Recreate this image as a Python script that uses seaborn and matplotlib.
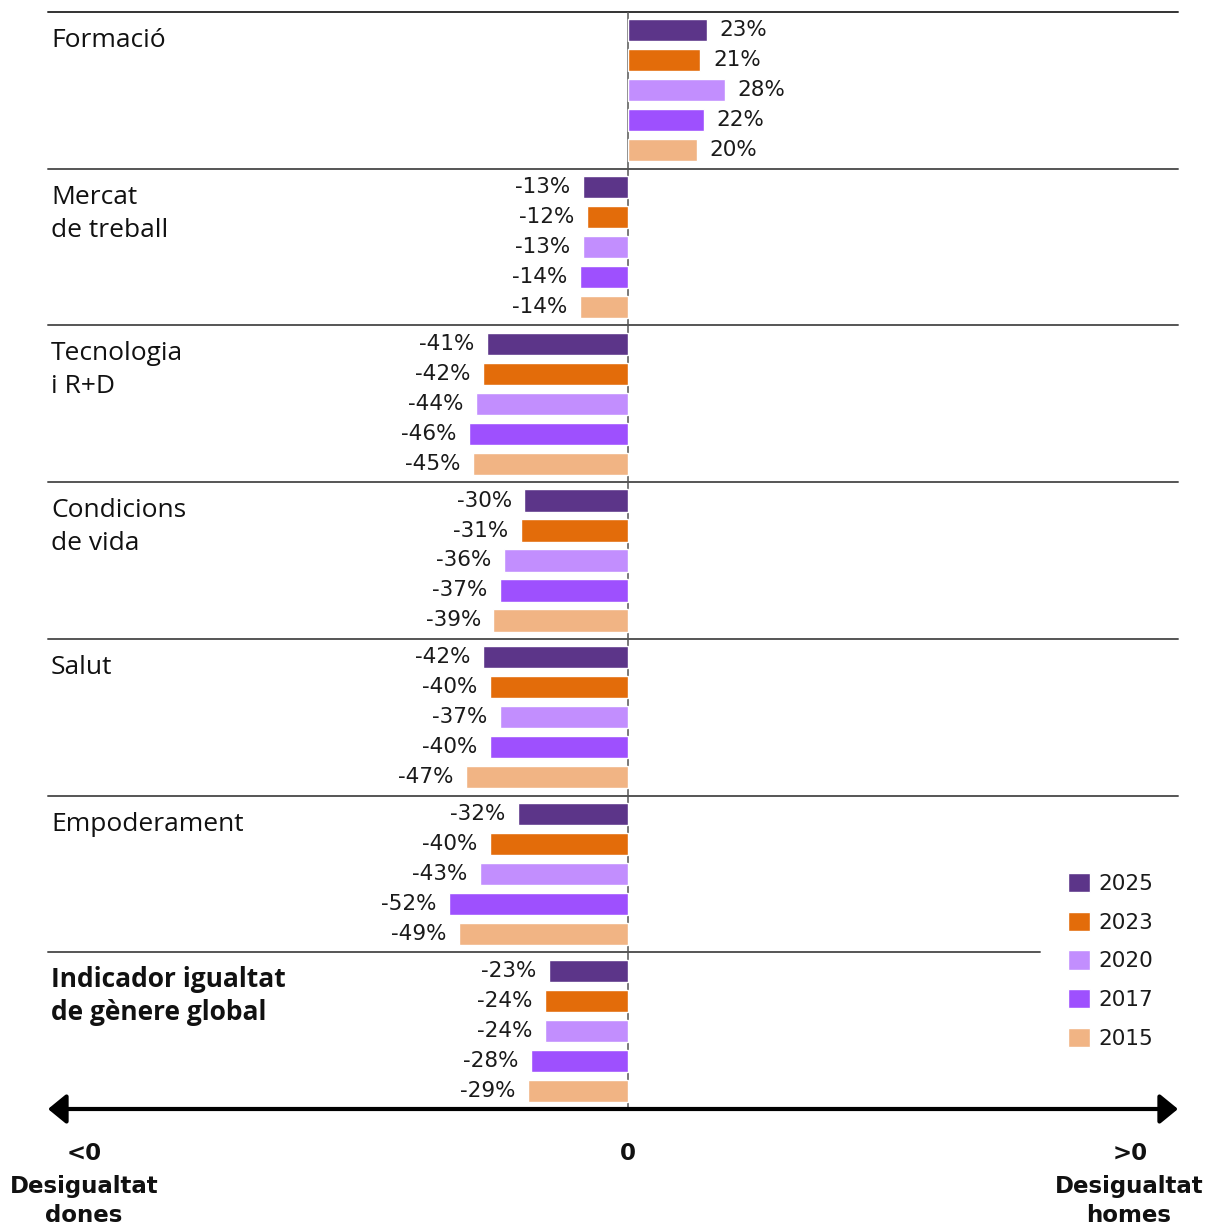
import matplotlib
matplotlib.use("Agg")
import matplotlib.pyplot as plt
import matplotlib.transforms as mtransforms
import seaborn as sns
import pandas as pd

# --- data -------------------------------------------------------------
categories = [
    "Formació",
    "Mercat\nde treball",
    "Tecnologia\ni R+D",
    "Condicions\nde vida",
    "Salut",
    "Empoderament",
    "Indicador igualtat\nde gènere global",
]
years = ["2025", "2023", "2020", "2017", "2015"]

values_2025 = [23, -13, -41, -30, -42, -32, -23]
values_2023 = [21, -12, -42, -31, -40, -40, -24]
values_2020 = [28, -13, -44, -36, -37, -43, -24]
values_2017 = [22, -14, -46, -37, -40, -52, -28]
values_2015 = [20, -14, -45, -39, -47, -49, -29]

colors = ["#5c3589", "#e36c0a", "#c28efe", "#9e50fe", "#f1b484"]

series = [values_2025, values_2023, values_2020, values_2017, values_2015]
rows = []
for year, vals in zip(years, series):
    for cat, v in zip(categories, vals):
        rows.append({"categoria": cat, "any": year, "valor": v})
df = pd.DataFrame(rows)

# --- figure -------------------------------------------------------------
sns.set_theme(style="white")
plt.rcParams["font.family"] = ["DejaVu Sans"]

W, H = 1208, 1227
fig = plt.figure(figsize=(W / 100, H / 100), dpi=100)
ax_top, ax_bottom = 12, 1109
ax = fig.add_axes([48 / W, 1 - ax_bottom / H, (1178 - 48) / W,
                   (ax_bottom - ax_top) / H])
px_per_unit = (ax_bottom - ax_top) / len(categories)

sns.barplot(
    data=df, x="valor", y="categoria", hue="any", hue_order=years,
    order=categories, palette=colors, orient="h",
    width=0.957, gap=0.26, saturation=1, ax=ax, legend=True,
)

ax.set_xlim(-168.1, 159.4)
ax.set_ylim(6.5, -0.5)
for s in ax.spines.values():
    s.set_visible(False)
ax.set_xticks([])
ax.set_yticks([])
ax.set_xlabel("")
ax.set_ylabel("")

# value labels
for cont in ax.containers:
    ax.bar_label(cont, labels=[f"{v:.0f}%" for v in cont.datavalues],
                 padding=9, fontsize=15.5, color="#1a1a1a",
                 fontfamily="DejaVu Sans")

# zero line
ax.axvline(0, color="#555555", lw=1.1, zorder=0.5)

# group separators
for i in range(len(categories) - 1):
    y = i - 0.5
    ax.axhline(y, xmin=0, xmax=1, color="#555555" if i else "#333333",
               lw=1.4, clip_on=False, zorder=0.4)
ax.axhline(5.5, xmin=0, xmax=(1040 - 48) / (1178 - 48), color="#555555",
           lw=1.4, clip_on=False, zorder=0.4)

# category labels, one text per line, baselines 35 px / 33 px apart
trans = mtransforms.blended_transform_factory(ax.transAxes, ax.transData)
first_baseline = 35 / px_per_unit
line_step = 33 / px_per_unit
for i, cat in enumerate(categories):
    bold = i == len(categories) - 1
    for k, line in enumerate(cat.split("\n")):
        ax.text(3 / 1130, i - 0.5 + first_baseline + k * line_step, line,
                transform=trans, ha="left", va="baseline", fontsize=19,
                color="#111111", fontfamily="Open Sans",
                fontweight="bold" if bold else "normal")

# bottom double arrow
ax.annotate("", xy=(0, 0), xytext=(1, 0), xycoords="axes fraction",
            textcoords="axes fraction",
            arrowprops=dict(arrowstyle="<|-|>,head_length=0.55,head_width=0.45",
                            mutation_scale=20, lw=3, color="black",
                            shrinkA=0, shrinkB=0),
            annotation_clip=False)

# legend
handles, labels = ax.get_legend_handles_labels()
leg = ax.legend(handles, labels, loc="upper left",
                bbox_to_anchor=(1068 / W, 1 - 873 / H),
                bbox_transform=fig.transFigure,
                frameon=False, fontsize=15.5, handlelength=1.0,
                handleheight=1.0, handletextpad=0.4, labelspacing=0.82,
                borderpad=0, borderaxespad=0)
for t in leg.get_texts():
    t.set_color("#1a1a1a")

# axis end annotations
def ftext(x, y, s):
    fig.text(x / W, 1 - y / H, s, ha="center", va="center", fontsize=16.5,
             fontweight="bold", color="#111111", fontfamily="DejaVu Sans")

ftext(84, 1153, "<0")
ftext(84, 1186, "Desigualtat")
ftext(84, 1216, "dones")
ftext(628, 1153, "0")
ftext(1130, 1153, ">0")
ftext(1129, 1186, "Desigualtat")
ftext(1129, 1216, "homes")

fig.savefig("out.png", dpi=100)
